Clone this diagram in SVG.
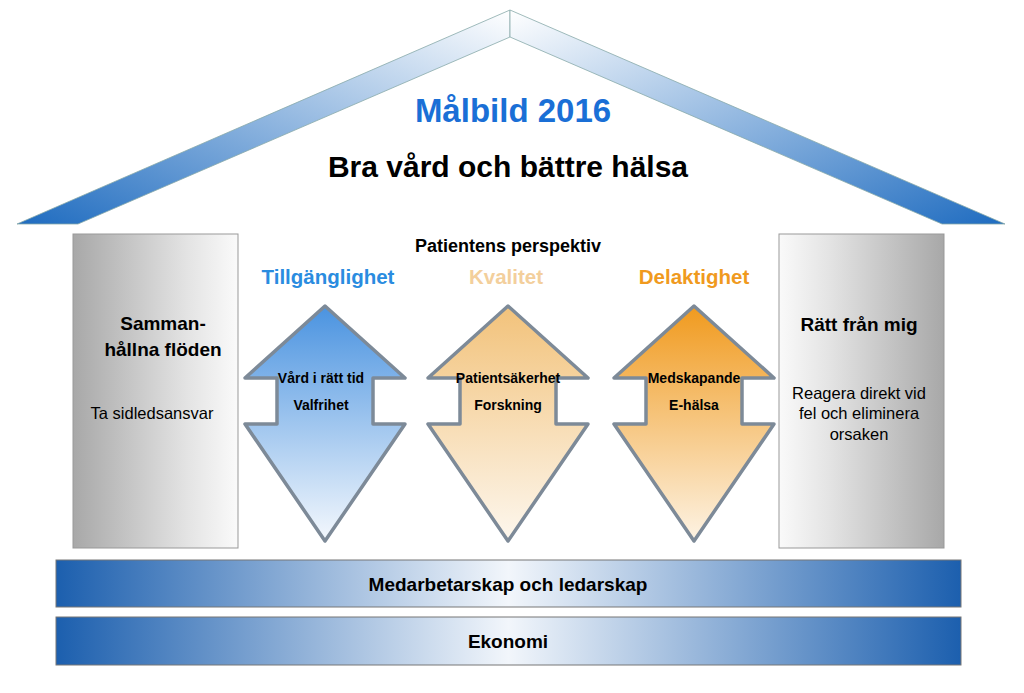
<svg xmlns="http://www.w3.org/2000/svg" width="1024" height="693" viewBox="0 0 1024 693">
<defs>
<linearGradient id="roofL" x1="0" y1="1" x2="1" y2="0"><stop offset="0" stop-color="#1f6cc0"/><stop offset="1" stop-color="#ffffff"/></linearGradient>
<linearGradient id="roofR" x1="1" y1="1" x2="0" y2="0"><stop offset="0" stop-color="#1f6cc0"/><stop offset="1" stop-color="#ffffff"/></linearGradient>
<linearGradient id="pillar" x1="0" y1="0" x2="1" y2="0"><stop offset="0" stop-color="#a8a8a8"/><stop offset="0.7" stop-color="#e4e4e4"/><stop offset="1" stop-color="#fafafa"/></linearGradient>
<linearGradient id="pillarR" x1="1" y1="0" x2="0" y2="0"><stop offset="0" stop-color="#a8a8a8"/><stop offset="0.7" stop-color="#e4e4e4"/><stop offset="1" stop-color="#fafafa"/></linearGradient>
<linearGradient id="bar" x1="0" y1="0" x2="1" y2="0"><stop offset="0" stop-color="#1c5fae"/><stop offset="0.5" stop-color="#f2f6fb"/><stop offset="1" stop-color="#1c5fae"/></linearGradient>
<linearGradient id="blue" x1="0" y1="0" x2="0" y2="1"><stop offset="0" stop-color="#4a93e0"/><stop offset="1" stop-color="#f4f8fd"/></linearGradient>
<linearGradient id="beige" x1="0" y1="0" x2="0" y2="1"><stop offset="0" stop-color="#f2c27a"/><stop offset="1" stop-color="#fdf7ee"/></linearGradient>
<linearGradient id="orange" x1="0" y1="0" x2="0" y2="1"><stop offset="0" stop-color="#f09a1e"/><stop offset="1" stop-color="#fdf3e4"/></linearGradient>
<polygon id="arr" points="0,0 80,72 48,72 48,118 80,118 0,235 -80,118 -48,118 -48,72 -80,72"/>
</defs>
<style>
text{font-family:"Liberation Sans",Arial,sans-serif;font-weight:bold;text-anchor:middle;fill:#000}
.m{font-size:19px}.h{font-size:20.5px}.sm{font-size:16.5px;font-weight:normal}.t{font-size:14px}.b{font-size:19px}
.a{stroke:#7d8a98;stroke-width:3.5;stroke-linejoin:round}
</style>
<rect width="1024" height="693" fill="#fff"/>
<g id="roof">
<polygon points="17,224 510,10 510,37 78,224" fill="url(#roofL)" stroke="#8aa" stroke-width="0.8"/>
<polygon points="1005,224 510,10 510,37 942,224" fill="url(#roofR)" stroke="#8aa" stroke-width="0.8"/>
<text x="513" y="122" font-size="33" style="fill:#1a6fd6">Målbild 2016</text>
<text x="508" y="177" font-size="30">Bra vård och bättre hälsa</text>
</g>
<g id="left-pillar">
<rect x="73" y="234" width="165" height="314" fill="url(#pillar)" stroke="#999"/>
<text x="163" y="330" class="m">Samman-</text>
<text x="163" y="356" class="m">hållna flöden</text>
<text x="152" y="419" class="sm">Ta sidledsansvar</text>
</g>
<g id="right-pillar">
<rect x="779" y="234" width="165" height="314" fill="url(#pillarR)" stroke="#999"/>
<text x="859" y="331" class="m">Rätt från mig</text>
<text x="859" y="399" class="sm">Reagera direkt vid</text>
<text x="859" y="419" class="sm">fel och eliminera</text>
<text x="859" y="440" class="sm">orsaken</text>
</g>
<text x="508" y="252" font-size="18">Patientens perspektiv</text>
<g id="tillganglighet">
<text x="328" y="284" class="h" style="fill:#2a8ce0">Tillgänglighet</text>
<use href="#arr" x="325" y="306" fill="url(#blue)" class="a"/>
<text x="321" y="383" class="t">Vård i rätt tid</text>
<text x="321" y="410" class="t">Valfrihet</text>
</g>
<g id="kvalitet">
<text x="506" y="284" class="h" style="fill:#f3cf9c">Kvalitet</text>
<use href="#arr" x="508" y="306" fill="url(#beige)" class="a"/>
<text x="508" y="383" class="t">Patientsäkerhet</text>
<text x="508" y="410" class="t">Forskning</text>
</g>
<g id="delaktighet">
<text x="694" y="284" class="h" style="fill:#f09a1e">Delaktighet</text>
<use href="#arr" x="694" y="306" fill="url(#orange)" class="a"/>
<text x="694" y="383" class="t">Medskapande</text>
<text x="694" y="410" class="t">E-hälsa</text>
</g>
<g id="bar1">
<rect x="56" y="560" width="905" height="47" fill="url(#bar)" stroke="#777"/>
<text x="508" y="591" class="b">Medarbetarskap och ledarskap</text>
</g>
<g id="bar2">
<rect x="56" y="617" width="905" height="48" fill="url(#bar)" stroke="#777"/>
<text x="508" y="648" class="b">Ekonomi</text>
</g>
<g id="connectors"/>
</svg>
